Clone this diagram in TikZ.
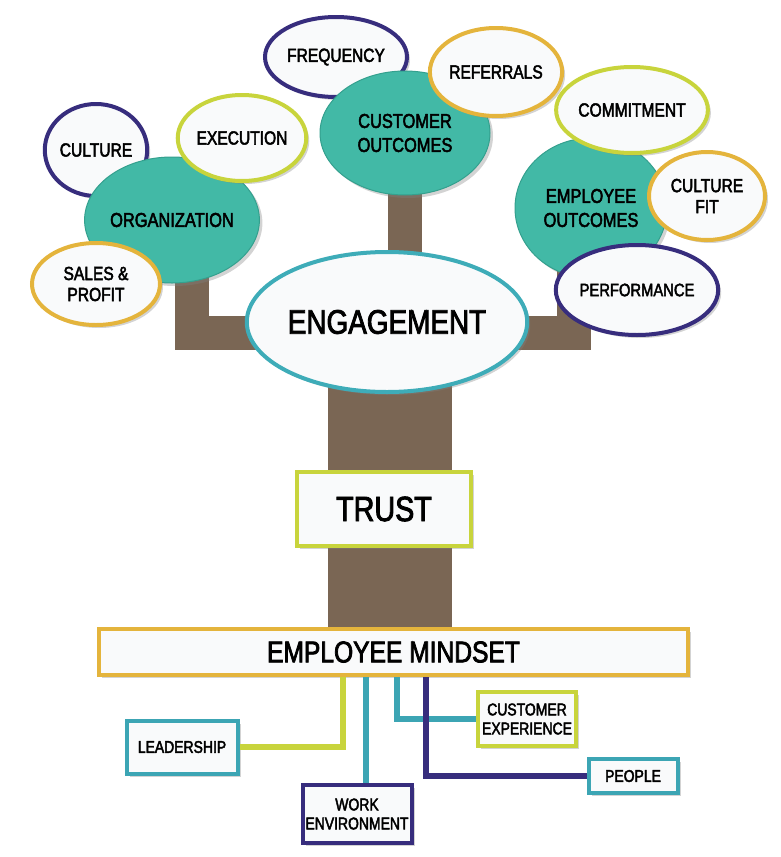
\documentclass[tikz,border=0pt]{standalone}
\usepackage{fontspec}
\setmainfont{Liberation Sans}[FakeStretch=0.82,FakeBold=2.5]
\usetikzlibrary{shapes.geometric,shadows,backgrounds}
\definecolor{tealfill}{RGB}{66,185,166}
\definecolor{tealdark}{RGB}{52,160,142}
\definecolor{barkbrown}{RGB}{122,102,84}
\definecolor{leafwhite}{RGB}{249,250,251}
\definecolor{inkpurple}{RGB}{55,45,125}
\definecolor{limegreen}{RGB}{200,212,60}
\definecolor{goldrim}{RGB}{228,180,60}
\definecolor{skyteal}{RGB}{62,172,184}
\definecolor{rootteal}{RGB}{60,165,180}
\tikzset{
	% bubbles of the tree: teal for outcomes, white for leaves
	outcome node/.style={ellipse,fill=tealfill,draw=tealdark,line width=1pt,inner sep=0,align=center,
		drop shadow={shadow xshift=3pt,shadow yshift=-3pt,opacity=.35},font=\fontsize{20}{24}\selectfont},
	leaf node/.style={ellipse,fill=leafwhite,line width=4pt,inner sep=0,align=center,
		drop shadow={shadow xshift=3pt,shadow yshift=-3pt,opacity=.35},font=\fontsize{19}{21}\selectfont},
	% boxes on the trunk and at the roots
	plain box/.style={rectangle,fill=leafwhite,line width=4pt,inner sep=0,align=center,
		drop shadow={shadow xshift=3pt,shadow yshift=-3pt,opacity=.35},font=\fontsize{17}{19}\selectfont},
	root line/.style={line width=6pt},
	branch/.style={draw=barkbrown,line width=34pt}
}
\begin{document}
\begin{tikzpicture}[x=1pt,y=-1pt]
	\useasboundingbox (0,0) rectangle (781,857);
	% left crown
	\node(culture)[leaf node,draw=inkpurple,minimum width=100,minimum height=92] at (96,150) {CULTURE};
	\node(org)[outcome node,minimum width=170,minimum height=126] at (172,220) {ORGANIZATION};
	\node(exec)[leaf node,draw=limegreen,minimum width=116,minimum height=86] at (242,138) {EXECUTION};
	\node(sales)[leaf node,draw=goldrim,minimum width=128,minimum height=82] at (96,284) {SALES \&\\PROFIT};
	% middle crown
	\node(freq)[leaf node,draw=inkpurple,minimum width=142,minimum height=80] at (336,57) {FREQUENCY};
	\node(custout)[outcome node,minimum width=170,minimum height=124] at (405,133) {CUSTOMER\\OUTCOMES};
	\node(refer)[leaf node,draw=goldrim,minimum width=114,minimum height=88] at (496,72) {REFERRALS};
	% right crown
	\node(empout)[outcome node,minimum width=152,minimum height=140] at (591,208) {EMPLOYEE\\OUTCOMES};
	\node(commit)[leaf node,draw=limegreen,minimum width=136,minimum height=86] at (632,110) {COMMITMENT};
	\node(cfit)[leaf node,draw=goldrim,minimum width=116,minimum height=88] at (707,196) {CULTURE\\FIT};
	\node(perf)[leaf node,draw=inkpurple,minimum width=126,minimum height=90,font=\fontsize{18}{21}\selectfont] at (637,290) {PERFORMANCE};
	% trunk
	\node(engage)[leaf node,draw=skyteal,minimum width=246,minimum height=140,font=\fontsize{34}{36}\selectfont] at (387,322) {ENGAGEMENT};
	\node(trust)[plain box,draw=limegreen,minimum width=174,minimum height=74,font=\fontsize{35}{36}\selectfont] at (384,509) {TRUST};
	\node(mindset)[plain box,draw=goldrim,minimum width=589,minimum height=46,font=\fontsize{30}{32}\selectfont] at (393.5,652) {EMPLOYEE MINDSET};
	% roots
	\node(lead)[plain box,draw=rootteal,minimum width=111,minimum height=53] at (182,747) {LEADERSHIP};
	\node(work)[plain box,draw=inkpurple,minimum width=109,minimum height=58] at (357,814) {WORK\\ENVIRONMENT};
	\node(custexp)[plain box,draw=limegreen,minimum width=98,minimum height=54] at (527,719) {CUSTOMER\\EXPERIENCE};
	\node(people)[plain box,draw=rootteal,minimum width=89,minimum height=34] at (633,776) {PEOPLE};
	\coordinate(r1) at ([xshift=-51pt]mindset.south);
	\coordinate(r2) at ([xshift=-28pt]mindset.south);
	\coordinate(r3) at ([xshift=3pt]mindset.south);
	\coordinate(r4) at ([xshift=32pt]mindset.south);
	\draw[root line,limegreen] (r1) |- (lead.east);
	\draw[root line,rootteal] (r2) -- (r2 |- work.north);
	\draw[root line,rootteal] (r3) |- (custexp.west);
	\draw[root line,inkpurple] (r4) |- (people.west);
	% bark behind everything
	\begin{scope}[on background layer]
		\fill[barkbrown] ([xshift=-59pt]engage.center) rectangle ([xshift=58pt]mindset.center);
		\draw[branch] ([xshift=20pt]org.center) |- ([yshift=-11pt]engage.center) -| ([xshift=-17pt]empout.center);
		\draw[branch] (custout.center) -- (custout.center |- engage.center);
	\end{scope}
\end{tikzpicture}
\end{document}
